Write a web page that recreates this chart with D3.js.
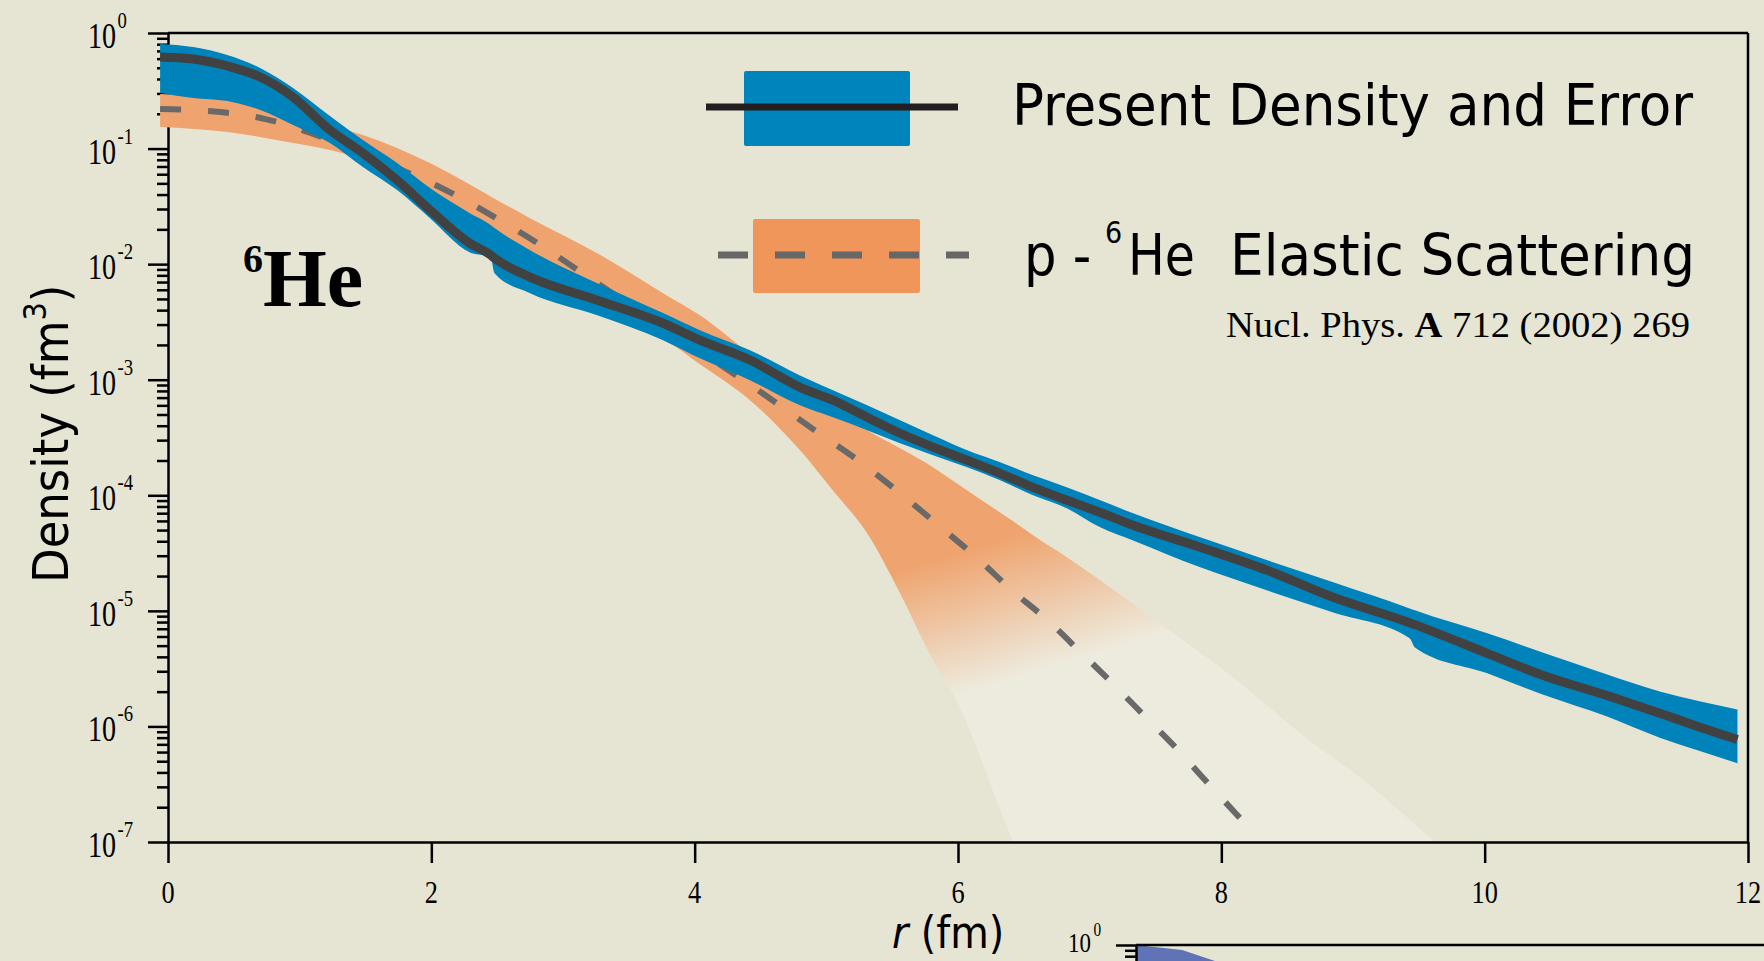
<!DOCTYPE html>
<html>
<head>
<meta charset="utf-8">
<script src="https://cdn.jsdelivr.net/npm/d3@7"></script>
<style>
  html, body { margin: 0; padding: 0; background: #e6e5d4; }
  svg { display: block; }
</style>
</head>
<body>
<svg id="chart" width="1764" height="961"></svg>
<script>
// present density: radius (fm), upper edge, centre line, lower edge
const presentR = [-0.06, 0.19, 0.45, 0.70, 0.95, 1.23, 1.48, 1.74, 1.99, 2.29, 2.45, 2.48, 2.75, 3.26, 3.76, 4.04, 4.42, 4.80, 5.05, 5.31,
  5.56, 5.81, 6.07, 6.32, 6.57, 6.83, 7.08, 7.33, 7.84, 8.35, 8.85, 9.43, 9.47, 10.02, 10.44, 10.93, 11.33, 11.64, 11.92];
const presentHi = [0.803, 0.756, 0.645, 0.498, 0.334, 0.191, 0.1185, 0.0749, 0.0455, 0.0277, 0.0218, 0.0205, 0.0132, 0.00684, 0.00377,
  0.00268, 0.00180, 0.00109, 8.1e-4, 6.0e-4, 4.46e-4, 3.30e-4, 2.45e-4, 1.93e-4, 1.49e-4, 1.17e-4, 9.05e-5, 6.98e-5, 4.33e-5,
  2.74e-5, 1.77e-5, 1.05e-5, 1.01e-5, 6.4e-6, 4.37e-6, 2.82e-6, 2.01e-6, 1.64e-6, 1.40e-6];
const presentMid = [0.620, 0.595, 0.518, 0.416, 0.279, 0.1445, 0.0914, 0.0533, 0.0294, 0.0152, 0.0120, 0.01127, 0.00771, 0.00488,
  0.00308, 0.00220, 0.00148, 8.6e-4, 6.65e-4, 4.73e-4, 3.44e-4, 2.61e-4, 2.01e-4, 1.55e-4, 1.17e-4, 9.05e-5, 7.1e-5, 5.5e-5,
  3.55e-5, 2.24e-5, 1.31e-5, 7.9e-6, 7.6e-6, 4.29e-6, 2.77e-6, 1.85e-6, 1.30e-6, 9.8e-7, 7.7e-7];
const presentLo = [0.303, 0.274, 0.258, 0.216, 0.160, 0.1116, 0.0692, 0.0437, 0.0250, 0.0127, 0.0115, 0.00836, 0.00561, 0.00362,
  0.00220, 0.00153, 9.9e-4, 6.0e-4, 4.73e-4, 3.66e-4, 2.82e-4, 2.22e-4, 1.75e-4, 1.35e-4, 1.00e-4, 7.7e-5, 5.28e-5, 4.07e-5,
  2.38e-5, 1.50e-5, 9.7e-6, 5.8e-6, 4.83e-6, 2.88e-6, 1.89e-6, 1.22e-6, 8.0e-7, 6.1e-7, 4.8e-7];

// p-6He elastic scattering band
const elasticR = [-0.06, 0.45, 0.95, 1.23, 1.48, 1.99, 2.50, 2.75, 3.26, 3.76, 4.04, 4.42, 4.80, 5.05, 5.31, 5.56, 5.81, 5.99,
  6.32, 6.42, 6.57, 6.83, 7.08, 7.53, 8.09, 8.60, 9.11, 9.61, 9.96];
const elasticHi = [0.296, 0.268, 0.207, 0.160, 0.131, 0.0749, 0.0358, 0.0250, 0.01245, 0.00561, 0.00362, 0.00169, 8.8e-4, 5.66e-4,
  3.66e-4, 2.55e-4, 1.75e-4, 1.27e-4, 7.1e-5, 5.95e-5, 4.51e-5, 2.90e-5, 1.84e-5, 7.8e-6, 2.66e-6, 8.7e-7, 3.21e-7, 1.03e-7, 4.6e-8];
const elasticLo = [0.1535, 0.139, 0.1116, 0.0970, 0.0795, 0.0324, 0.01462, 0.00923, 0.00384, 0.00229, 0.00136, 6.65e-4, 2.45e-4,
  1.10e-4, 4.69e-5, 1.42e-5, 3.73e-6, 1.68e-6, 1.91e-7, 9.9e-8, 3.44e-8, 1e-8, 1e-8, 1e-8, 1e-8, 1e-8, 1e-8, 1e-8, 1e-8];
const elasticMidR = [-0.06, 0.40, 0.74, 1.23, 1.69, 2.14, 2.48, 2.83, 3.18, 3.89, 4.58, 4.91, 5.25, 5.57, 5.86, 6.14, 6.41, 6.68,
  6.94, 7.19, 7.42, 7.66, 7.88, 8.16];
const elasticMid = [0.220, 0.207, 0.180, 0.1185, 0.0720, 0.0420, 0.0255, 0.01462, 0.00787, 0.00229, 6.78e-4, 3.66e-4, 1.97e-4,
  1.02e-4, 5.39e-5, 2.90e-5, 1.50e-5, 8.3e-6, 4.29e-6, 2.26e-6, 1.22e-6, 6.45e-7, 3.40e-7, 1.53e-7];

// the next panel, only its top edge shows at the bottom of the picture
const nextR = [0, 0.35, 0.60];
const nextVal = [1.0, 0.905, 0.727];

const xTicks = [0, 2, 4, 6, 8, 10, 12];
const yExponents = [0, -1, -2, -3, -4, -5, -6, -7];

const svg = d3.select('#chart');
const W = 1764, H = 961;

const x = d3.scaleLinear().domain([0, 12]).range([168, 1748]);
const y = d3.scaleLog().domain([1e-7, 1]).range([842, 33]);

const serif = '"Liberation Serif", "Times New Roman", serif';
const narrow = '"Liberation Sans Narrow", "DejaVu Sans Condensed", "Liberation Sans", sans-serif';

svg.append('rect').attr('width', W).attr('height', H).attr('fill', '#e6e5d4');

// gradient that fades the scattering band out at small densities
const defs = svg.append('defs');
const grad = defs.append('linearGradient')
  .attr('id', 'fade')
  .attr('gradientUnits', 'userSpaceOnUse')
  .attr('x1', x(6.3)).attr('y1', y(4e-5))
  .attr('x2', x(6.6)).attr('y2', y(3e-6));
grad.append('stop').attr('offset', 0).attr('stop-color', '#efa46f');
grad.append('stop').attr('offset', 1).attr('stop-color', '#edebde');

defs.append('clipPath').attr('id', 'plotclip')
  .append('rect')
  .attr('x', x(-0.07)).attr('y', y(1) + 1)
  .attr('width', x(12) - x(-0.07)).attr('height', y(1e-7) - y(1) - 2);

// axes
const majorY = yExponents.map(e => Math.pow(10, e));
let minorY = [];
yExponents.slice(1).forEach(function (e) {
  for (let k = 2; k <= 9; k++) minorY.push(k * Math.pow(10, e));
});

const axes = svg.append('g');

axes.append('g')
  .attr('transform', 'translate(' + x(0) + ',0)')
  .call(d3.axisLeft(y).tickValues(majorY).tickSize(20).tickSizeOuter(0).tickFormat(''));
axes.append('g')
  .attr('transform', 'translate(' + x(0) + ',0)')
  .call(d3.axisLeft(y).tickValues(minorY).tickSize(11).tickSizeOuter(0).tickFormat(''))
  .select('.domain').remove();

axes.append('g')
  .attr('transform', 'translate(0,' + y(1e-7) + ')')
  .call(d3.axisBottom(x).tickValues(xTicks).tickSize(21).tickSizeOuter(0).tickFormat(''));

// top and right frame
axes.append('line')
  .attr('x1', x(0)).attr('x2', x(12)).attr('y1', y(1)).attr('y2', y(1));
axes.append('line')
  .attr('x1', x(12)).attr('x2', x(12)).attr('y1', y(1)).attr('y2', y(1e-7));

axes.selectAll('line, path.domain')
  .attr('stroke', '#000')
  .attr('stroke-width', 2.5);

// tick labels
yExponents.forEach(function (e) {
  let g = svg.append('g')
    .attr('transform', 'translate(' + 116 + ',' + (y(Math.pow(10, e)) + 15) + ') scale(0.78,1)');
  g.append('text')
    .attr('text-anchor', 'end')
    .attr('font-family', serif)
    .attr('font-size', 36)
    .text('10');
  g.append('text')
    .attr('x', 2).attr('y', -20)
    .attr('font-family', serif)
    .attr('font-size', 24)
    .text(e === 0 ? '0' : String(e));
});

xTicks.forEach(function (t) {
  svg.append('text')
    .attr('transform', 'translate(' + x(t) + ',903) scale(0.85,1)')
    .attr('text-anchor', 'middle')
    .attr('font-family', serif)
    .attr('font-size', 31)
    .text(t);
});

// axis titles
const ylab = svg.append('text')
  .attr('transform', 'translate(68,583) rotate(-90)')
  .attr('font-family', narrow)
  .attr('font-size', 50);
ylab.append('tspan').text('Density (fm');
ylab.append('tspan').attr('font-size', 32).attr('dy', -22).text('3');
ylab.append('tspan').attr('dy', 22).text(')');

const xlab = svg.append('text')
  .attr('x', 892).attr('y', 948)
  .attr('font-family', narrow)
  .attr('font-size', 44);
xlab.append('tspan').attr('font-style', 'italic').text('r');
xlab.append('tspan').text(' (fm)');

// bands and lines
const plot = svg.append('g').attr('clip-path', 'url(#plotclip)');

const elastic = elasticR.map((r, i) => ({ r: r, hi: elasticHi[i], lo: elasticLo[i] }));
const present = presentR.map((r, i) => ({ r: r, hi: presentHi[i], mid: presentMid[i], lo: presentLo[i] }));
const elasticLine = elasticMidR.map((r, i) => ({ r: r, v: elasticMid[i] }));

const band = d3.area()
  .x(d => x(d.r))
  .y0(d => y(d.lo))
  .y1(d => y(d.hi))
  .curve(d3.curveMonotoneX);

plot.append('path')
  .datum(elastic)
  .attr('d', band)
  .attr('fill', 'url(#fade)');

plot.append('path')
  .datum(elasticLine)
  .attr('d', d3.line().x(d => x(d.r)).y(d => y(d.v)).curve(d3.curveMonotoneX))
  .attr('fill', 'none')
  .attr('stroke', '#696969')
  .attr('stroke-width', 6)
  .attr('stroke-dasharray', '21,27');

plot.append('path')
  .datum(present)
  .attr('d', band)
  .attr('fill', '#0083bb');

plot.append('path')
  .datum(present)
  .attr('d', d3.line().x(d => x(d.r)).y(d => y(d.mid)).curve(d3.curveMonotoneX))
  .attr('fill', 'none')
  .attr('stroke', '#414141')
  .attr('stroke-width', 9);

// nucleus label
svg.append('text')
  .attr('x', 243).attr('y', 272)
  .attr('font-family', serif).attr('font-weight', 'bold').attr('font-size', 40)
  .text('6');
svg.append('text')
  .attr('x', 263).attr('y', 306)
  .attr('font-family', serif).attr('font-weight', 'bold').attr('font-size', 82)
  .text('He');

// legend
const legend = svg.append('g');
legend.append('rect')
  .attr('x', 744).attr('y', 71).attr('width', 166).attr('height', 75).attr('rx', 2)
  .attr('fill', '#0084bc');
legend.append('line')
  .attr('x1', 706).attr('x2', 958).attr('y1', 107).attr('y2', 107)
  .attr('stroke', '#231f20').attr('stroke-width', 7);
legend.append('text')
  .attr('x', 1012).attr('y', 125)
  .attr('font-family', narrow).attr('font-size', 57)
  .attr('textLength', 681).attr('lengthAdjust', 'spacingAndGlyphs')
  .text('Present Density and Error');

legend.append('rect')
  .attr('x', 753).attr('y', 219).attr('width', 167).attr('height', 74).attr('rx', 2)
  .attr('fill', '#f0965b');
legend.append('line')
  .attr('x1', 718).attr('x2', 969).attr('y1', 255).attr('y2', 255)
  .attr('stroke', '#676767').attr('stroke-width', 7)
  .attr('stroke-dasharray', '30,27');
legend.append('text')
  .attr('x', 1024).attr('y', 275)
  .attr('font-family', narrow).attr('font-size', 57)
  .text('p -');
legend.append('text')
  .attr('x', 1105).attr('y', 243)
  .attr('font-family', narrow).attr('font-size', 30)
  .text('6');
legend.append('text')
  .attr('x', 1128).attr('y', 275)
  .attr('font-family', narrow).attr('font-size', 57)
  .attr('textLength', 67).attr('lengthAdjust', 'spacingAndGlyphs')
  .text('He');
legend.append('text')
  .attr('x', 1230).attr('y', 275)
  .attr('font-family', narrow).attr('font-size', 57)
  .attr('textLength', 465).attr('lengthAdjust', 'spacingAndGlyphs')
  .text('Elastic Scattering');

const ref = legend.append('text')
  .attr('x', 1226).attr('y', 337)
  .attr('font-family', serif).attr('font-size', 35)
  .attr('textLength', 464).attr('lengthAdjust', 'spacingAndGlyphs');
ref.append('tspan').text('Nucl. Phys. ');
ref.append('tspan').attr('font-weight', 'bold').text('A');
ref.append('tspan').text(' 712 (2002) 269');

// top edge of the next panel
const x2 = d3.scaleLinear().domain([0, 12]).range([1136, 1136 + 1580]);
const y2 = d3.scaleLog().domain([1e-7, 1]).range([945 + 809, 945]);
const next = nextR.map((r, i) => ({ r: r, v: nextVal[i] }));

svg.append('path')
  .datum(next)
  .attr('d', d3.area().x(d => x2(d.r)).y0(y2(1e-7)).y1(d => y2(d.v)))
  .attr('fill', '#5f73b6');

const nextAxes = svg.append('g');
nextAxes.append('g')
  .attr('transform', 'translate(' + x2(0) + ',0)')
  .call(d3.axisLeft(y2).tickValues([1]).tickSize(20).tickSizeOuter(0).tickFormat(''));
nextAxes.append('g')
  .attr('transform', 'translate(' + x2(0) + ',0)')
  .call(d3.axisLeft(y2).tickValues([0.9, 0.8, 0.7]).tickSize(11).tickSizeOuter(0).tickFormat(''))
  .select('.domain').remove();
nextAxes.append('line')
  .attr('x1', x2(0)).attr('x2', W).attr('y1', y2(1)).attr('y2', y2(1));
nextAxes.selectAll('line, path.domain')
  .attr('stroke', '#000')
  .attr('stroke-width', 2.5);

const nl = svg.append('g')
  .attr('transform', 'translate(1091,952) scale(0.85,1)');
nl.append('text')
  .attr('text-anchor', 'end')
  .attr('font-family', serif).attr('font-size', 27)
  .text('10');
nl.append('text')
  .attr('x', 3).attr('y', -16)
  .attr('font-family', serif).attr('font-size', 18)
  .text('0');
</script>
</body>
</html>
